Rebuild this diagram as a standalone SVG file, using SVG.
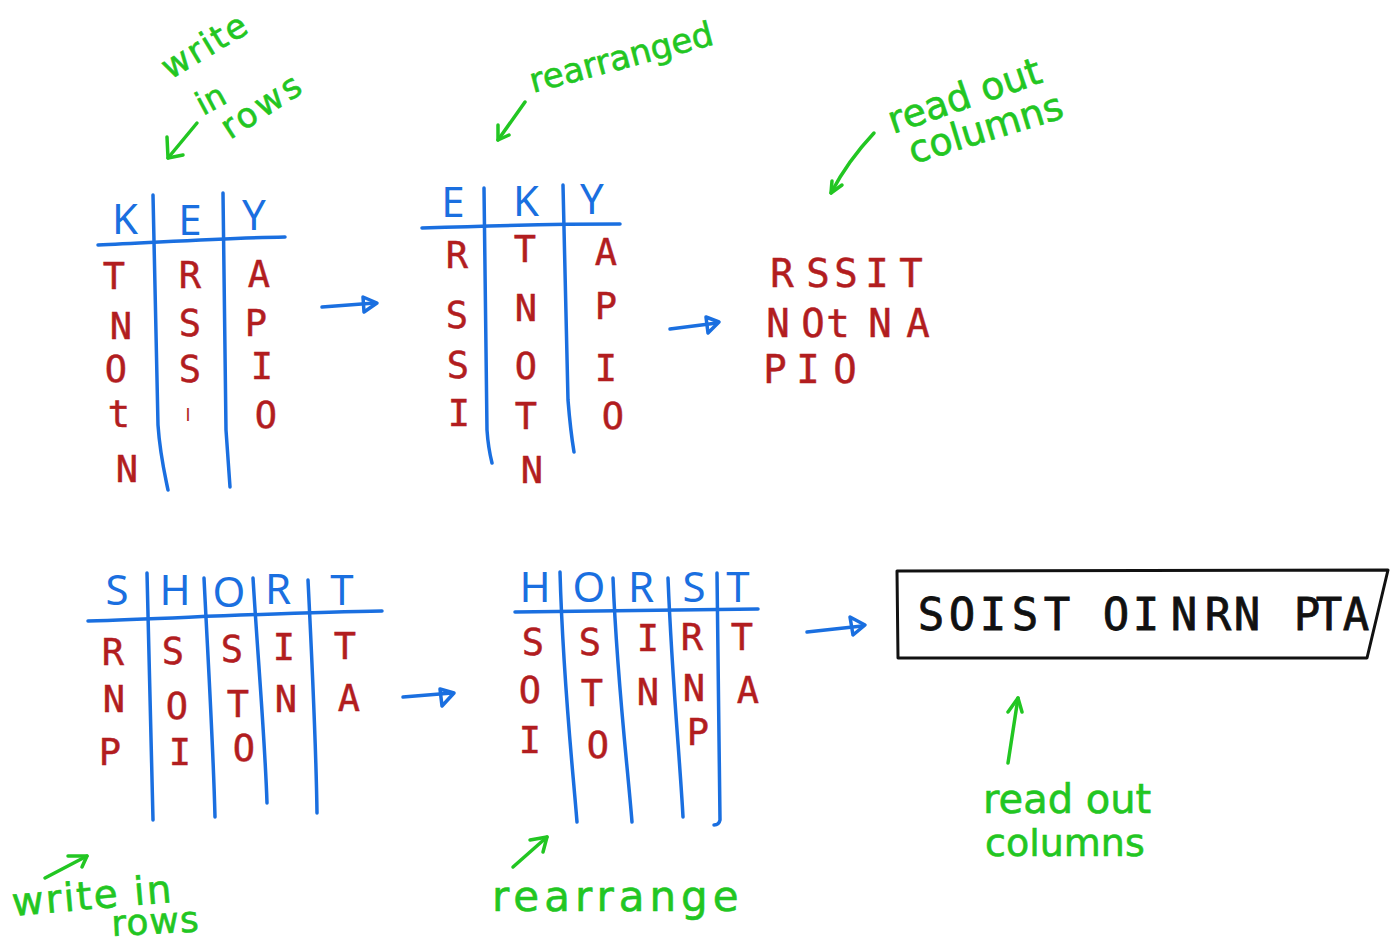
<svg xmlns="http://www.w3.org/2000/svg" width="1395" height="944" viewBox="0 0 1395 944">
  <style>
    .hdr { font-family: "Noto Sans", "DejaVu Sans", sans-serif; font-size: 42px; fill: #1a6fe0; text-anchor: middle; }
    .cell { font-family: "DejaVu Sans Mono", "Liberation Mono", monospace; font-size: 37px; fill: #b21d1f; stroke: #b21d1f; stroke-width: 0.5; text-anchor: middle; }
    .tick { font-family: "Liberation Sans", sans-serif; font-size: 18px; fill: #b21d1f; text-anchor: middle; }
    .out { font-family: "DejaVu Sans Mono", "Liberation Mono", monospace; font-size: 39px; fill: #b21d1f; stroke: #b21d1f; stroke-width: 0.5; text-anchor: middle; }
    .cipher { font-family: "DejaVu Sans Mono", "Liberation Mono", monospace; font-size: 44px; fill: #111; stroke: #111; stroke-width: 0.8; text-anchor: middle; }
    .note { font-family: "DejaVu Sans", "Liberation Sans", sans-serif; fill: #22c622; stroke: #22c622; stroke-width: 0.6; }
    .rule { stroke: #1a6fe0; stroke-width: 3.5; fill: none; stroke-linecap: round; stroke-linejoin: round; }
    .barrow { stroke: #1a6fe0; stroke-width: 3.5; fill: none; stroke-linecap: round; stroke-linejoin: round; }
    .garrow { stroke: #22c622; stroke-width: 3.5; fill: none; stroke-linecap: round; stroke-linejoin: round; }
    .box { stroke: #111; stroke-width: 3; fill: #fff; stroke-linejoin: round; }
  </style>
  <rect width="1395" height="944" fill="#fff"/>

  <!-- KEY grid -->
  <g id="table-key">
    <text class="hdr" x="125" y="234">K</text>
    <text class="hdr" x="190" y="235">E</text>
    <text class="hdr" x="254" y="230">Y</text>
    <path class="rule" d="M98,245 C150,243 220,238 285,237"/>
    <path class="rule" d="M153,195 C156,300 157,400 158,425 C160,455 165,475 168,490"/>
    <path class="rule" d="M223,193 C225,300 225,400 226,430 C228,460 229,475 230,487"/>
    <text class="cell" x="114" y="289">T</text>
    <text class="cell" x="121" y="339">N</text>
    <text class="cell" x="116" y="382">O</text>
    <text class="cell" x="119" y="427">t</text>
    <text class="cell" x="127" y="482">N</text>
    <text class="cell" x="190" y="288">R</text>
    <text class="cell" x="190" y="336">S</text>
    <text class="cell" x="190" y="382">S</text>
    <text class="tick" x="188" y="421">I</text>
    <text class="cell" x="259" y="287">A</text>
    <text class="cell" x="256" y="336">P</text>
    <text class="cell" x="262" y="379">I</text>
    <text class="cell" x="266" y="428">O</text>
  </g>

  <!-- EKY grid -->
  <g id="table-eky">
    <text class="hdr" x="453" y="217">E</text>
    <text class="hdr" x="526" y="216">K</text>
    <text class="hdr" x="592" y="214">Y</text>
    <path class="rule" d="M422,228 C480,226 550,224 620,224"/>
    <path class="rule" d="M484,188 C486,300 486,400 487,430 C488,445 490,455 492,463"/>
    <path class="rule" d="M563,185 C566,300 567,380 568,400 C570,425 572,440 574,452"/>
    <text class="cell" x="457" y="268">R</text>
    <text class="cell" x="457" y="328">S</text>
    <text class="cell" x="458" y="378">S</text>
    <text class="cell" x="459" y="426">I</text>
    <text class="cell" x="525" y="262">T</text>
    <text class="cell" x="526" y="321">N</text>
    <text class="cell" x="526" y="379">O</text>
    <text class="cell" x="526" y="429">T</text>
    <text class="cell" x="532" y="483">N</text>
    <text class="cell" x="606" y="265">A</text>
    <text class="cell" x="606" y="319">P</text>
    <text class="cell" x="606" y="381">I</text>
    <text class="cell" x="613" y="429">O</text>
  </g>

  <!-- columns read out -->
  <g id="result-key">
    <text class="out" x="782 818 846 877 911" y="287">RSSIT</text>
    <text class="out" x="778 813 838 880 918" y="337">NOtNA</text>
    <text class="out" x="775 808 845" y="383">PIO</text>
  </g>

  <!-- SHORT grid -->
  <g id="table-short">
    <text class="hdr" x="117" y="605">S</text>
    <text class="hdr" x="175" y="605">H</text>
    <text class="hdr" x="229" y="607">O</text>
    <text class="hdr" x="278" y="604">R</text>
    <text class="hdr" x="342" y="605">T</text>
    <path class="rule" d="M88,621 C200,617 300,612 382,611"/>
    <path class="rule" d="M147,573 C150,680 152,760 153,820"/>
    <path class="rule" d="M204,578 C208,660 213,740 215,817"/>
    <path class="rule" d="M253,578 C258,660 265,740 267,803"/>
    <path class="rule" d="M308,580 C312,660 316,740 317,813"/>
    <text class="cell" x="113" y="665">R</text>
    <text class="cell" x="173" y="664">S</text>
    <text class="cell" x="232" y="662">S</text>
    <text class="cell" x="284" y="660">I</text>
    <text class="cell" x="345" y="659">T</text>
    <text class="cell" x="114" y="712">N</text>
    <text class="cell" x="177" y="719">O</text>
    <text class="cell" x="238" y="717">T</text>
    <text class="cell" x="286" y="712">N</text>
    <text class="cell" x="349" y="711">A</text>
    <text class="cell" x="110" y="765">P</text>
    <text class="cell" x="180" y="765">I</text>
    <text class="cell" x="244" y="761">O</text>
  </g>

  <!-- HORST grid -->
  <g id="table-horst">
    <text class="hdr" x="535" y="602">H</text>
    <text class="hdr" x="589" y="602">O</text>
    <text class="hdr" x="641" y="602">R</text>
    <text class="hdr" x="694" y="602">S</text>
    <text class="hdr" x="738" y="602">T</text>
    <path class="rule" d="M515,612 L758,609"/>
    <path class="rule" d="M560,572 C563,680 572,760 577,822"/>
    <path class="rule" d="M613,578 C617,680 627,760 632,822"/>
    <path class="rule" d="M668,578 C672,680 680,760 683,817"/>
    <path class="rule" d="M717,573 C719,680 720,760 720,820 Q719,825 714,825"/>
    <text class="cell" x="533" y="655">S</text>
    <text class="cell" x="590" y="655">S</text>
    <text class="cell" x="648" y="651">I</text>
    <text class="cell" x="692" y="650">R</text>
    <text class="cell" x="742" y="650">T</text>
    <text class="cell" x="530" y="703">O</text>
    <text class="cell" x="592" y="706">T</text>
    <text class="cell" x="648" y="705">N</text>
    <text class="cell" x="694" y="701">N</text>
    <text class="cell" x="748" y="703">A</text>
    <text class="cell" x="530" y="753">I</text>
    <text class="cell" x="598" y="758">O</text>
    <text class="cell" x="698" y="745">P</text>
  </g>

  <!-- final ciphertext -->
  <g id="cipher-box">
    <polygon class="box" points="897,571 1388,570 1367,658 898,658"/>
    <text class="cipher" x="931 962 993 1025 1057 1116 1146 1184 1218 1247 1307 1329 1356" y="630">SOISTOINRNPTA</text>
  </g>

  <!-- annotations -->
  <g id="notes">
    <text class="note" font-size="34" letter-spacing="2" transform="translate(170,80) rotate(-31)">write</text>
    <text class="note" font-size="32" transform="translate(203,116) rotate(-28)">in</text>
    <text class="note" font-size="34" letter-spacing="3" transform="translate(230,140) rotate(-33)">rows</text>
    <text class="note" font-size="34" transform="translate(533,93) rotate(-15)">rearranged</text>
    <text class="note" font-size="38" transform="translate(893,134) rotate(-19)">read out</text>
    <text class="note" font-size="38" transform="translate(913,164) rotate(-17)">columns</text>
    <text class="note" font-size="39" letter-spacing="2" transform="translate(13,916) rotate(-5)">write in</text>
    <text class="note" font-size="36" letter-spacing="1" transform="translate(112,936) rotate(-3)">rows</text>
    <text class="note" font-size="42" letter-spacing="5" x="492" y="911">rearrange</text>
    <text class="note" font-size="40" x="983" y="813">read out</text>
    <text class="note" font-size="38" x="985" y="856">columns</text>
  </g>

  <!-- connectors -->
  <g id="connectors">
    <path class="barrow" d="M322,307 L375,303"/>
    <path class="barrow" d="M363,297 L377,303 L364,312 Z"/>
    <path class="barrow" d="M670,329 L717,323"/>
    <path class="barrow" d="M706,317 L719,322 L708,333 Z"/>
    <path class="barrow" d="M403,697 L452,693"/>
    <path class="barrow" d="M440,689 L454,693 L442,706 Z"/>
    <path class="barrow" d="M807,632 L862,626"/>
    <path class="barrow" d="M850,617 L865,625 L853,635 Z"/>

    <path class="garrow" d="M197,123 L168,158"/>
    <path class="garrow" d="M167,137 L168,158 L183,155"/>
    <path class="garrow" d="M525,102 L498,140"/>
    <path class="garrow" d="M498,125 L498,140 L509,135"/>
    <path class="garrow" d="M874,133 C858,150 842,172 831,193"/>
    <path class="garrow" d="M832,181 L831,193 L842,185"/>
    <path class="garrow" d="M45,878 L87,856"/>
    <path class="garrow" d="M68,856 L87,856 L82,867"/>
    <path class="garrow" d="M513,867 L547,837"/>
    <path class="garrow" d="M530,840 L547,837 L543,852"/>
    <path class="garrow" d="M1008,763 L1018,698"/>
    <path class="garrow" d="M1008,712 L1018,698 L1022,712"/>
  </g>
</svg>
